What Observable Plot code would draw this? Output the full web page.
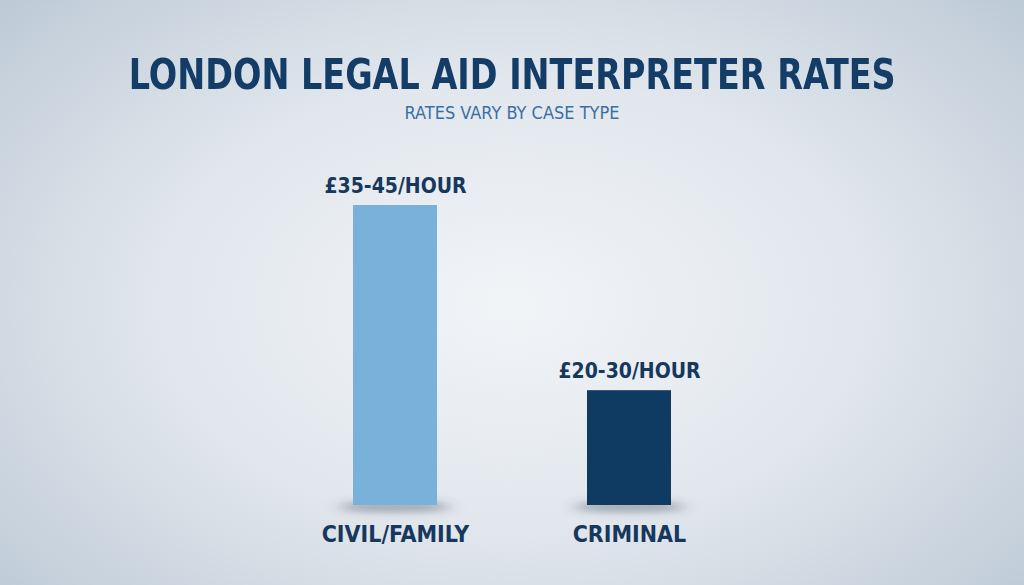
<!DOCTYPE html>
<html>
<head>
<meta charset="utf-8">
<script src="https://cdn.jsdelivr.net/npm/d3@7"></script>
<script src="https://cdn.jsdelivr.net/npm/@observablehq/plot@0.6"></script>
<style>
  html, body { margin: 0; padding: 0; }
  body {
    width: 1024px; height: 585px; overflow: hidden;
    background: radial-gradient(ellipse 75% 85% at 50% 52%, #f1f4f7 0%, #e2e7ed 45%, #c6d1dc 80%, #b3c3d1 100%);
    font-family: "Liberation Sans Narrow", "DejaVu Sans Condensed", Roboto, sans-serif;
  }
  #title {
    position: absolute; left: 0; width: 1024px; top: 52px; text-align: center;
    line-height: 46px;
  }
  #title span {
    display: inline-block; transform: scaleX(0.885); transform-origin: 50% 50%;
    font-size: 42px; font-weight: 700; color: #133d67; white-space: nowrap;
  }
  #subtitle {
    position: absolute; left: 0; width: 1024px; top: 102px; text-align: center;
    font-size: 18px; color: #3a6fa5; line-height: 22px;
  }
  #chart { position: absolute; left: 0; top: 140px; }
</style>
</head>
<body>
<div id="title"><span>LONDON LEGAL AID INTERPRETER RATES</span></div>
<div id="subtitle">RATES VARY BY CASE TYPE</div>
<div id="chart"></div>
<script>
// Data
const caseTypes = ["CIVIL/FAMILY", "CRIMINAL"];
const rateMid = [40, 25];               // midpoint of hourly range (£)
const rateLabels = ["£35-45/HOUR", "£20-30/HOUR"];
const barColors = ["#78b1da", "#0f3a61"];
const baseline = 15.7;

const data = caseTypes.map((c, i) => ({ type: c, value: rateMid[i], label: rateLabels[i], color: barColors[i] }));

const font = '"Liberation Sans Narrow", "DejaVu Sans Condensed", Roboto, sans-serif';

const plot = Plot.plot({
  width: 1024,
  height: 445,
  marginLeft: 201,
  marginRight: 202,
  marginTop: 65,
  marginBottom: 80,
  style: { background: "transparent", fontFamily: font, overflow: "visible" },
  x: { domain: caseTypes, padding: 0.643, label: null },
  y: { domain: [baseline, 40], axis: null },
  marks: [
    Plot.rectY(data, {
      x: "type", y1: baseline - 0.5, y2: baseline + 0.2,
      insetLeft: -14, insetRight: -14, rx: 40,
      fill: "#3f4b5c", fillOpacity: 0.5
    }),
    Plot.barY(data, { x: "type", y1: baseline, y2: "value", fill: "color" }),
    Plot.text(data, {
      x: "type", y: "value", text: "label", dy: -19,
      fontSize: 21, fontWeight: "bold", fill: "#17385d"
    }),
    Plot.axisX({
      tickSize: 0, tickPadding: 20, fontSize: 23, fontWeight: "bold",
      fill: "#17385d", label: null
    })
  ]
});

document.getElementById("chart").appendChild(plot);

const svg = d3.select(plot);
const defs = svg.insert("defs", ":first-child");
defs.append("filter").attr("id", "shadowBlur")
  .attr("filterUnits", "userSpaceOnUse")
  .attr("x", 0).attr("y", 0).attr("width", 1024).attr("height", 445)
  .append("feGaussianBlur").attr("stdDeviation", "8 4");
svg.selectAll('g[aria-label="rect"]').attr("filter", "url(#shadowBlur)");
svg.selectAll('g[aria-label="x-axis tick label"] text').attr("font-weight", "bold");
</script>
</body>
</html>
